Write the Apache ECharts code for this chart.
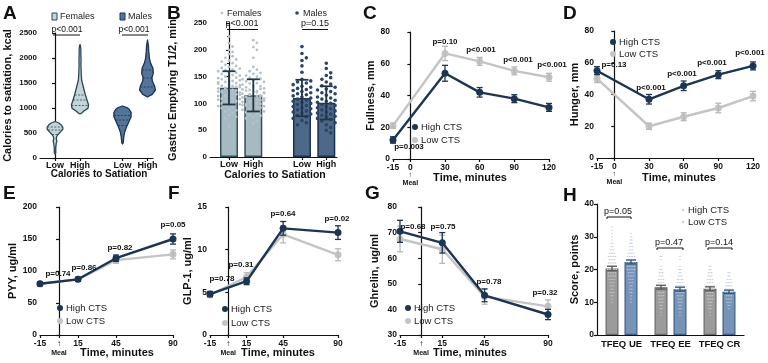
<!DOCTYPE html>
<html><head><meta charset="utf-8">
<script src="https://cdn.jsdelivr.net/npm/echarts@6/dist/echarts.min.js"></script>
<style>html,body{margin:0;padding:0;background:#fff}#c{width:768px;height:363px}</style>
</head><body><div id="c"></div>
<script>
const FONT = "'Liberation Sans', Arial, Helvetica, sans-serif";
const INK = '#111';
const NAVY = '#1c3553', LGRAY = '#c4c4c4';

// ---------- Panel A : calories to satiation (violins) ----------
const aLevels = ['Low', 'High'];
const aSexes = ['Females', 'Males'];
const aYTicks = [0, 500, 1000, 1500, 2000, 2500];
// [kcal, relative density]
const aFemLowDensity  = [[80,0],[100,0.08],[200,0.08],[300,0.15],[340,0.22],[380,0.15],[420,0.18],[460,0.3],[527,0.67],[580,0.92],[620,0.9],[660,0.74],[700,0.45],[730,0]];
const aFemHighDensity = [[880,0],[900,0.2],[940,0.45],[993,0.92],[1060,1],[1160,0.81],[1260,0.63],[1360,0.48],[1460,0.33],[1560,0.19],[1660,0.15],[1760,0.13],[1860,0.11],[1960,0.12],[2060,0.1],[2160,0.1],[2240,0.06],[2270,0]];
const aMaleLowDensity = [[280,0],[300,0.08],[427,0.15],[527,0.26],[627,0.48],[727,0.74],[827,1],[913,1],[980,0.75],[1010,0.5],[1040,0]];
const aMaleHighDensity= [[1220,0],[1273,0.55],[1360,0.92],[1447,0.81],[1540,0.56],[1607,0.52],[1693,0.67],[1793,0.63],[1893,0.37],[1993,0.22],[2127,0.15],[2260,0.1],[2360,0]];
const aFemLowQuart  = [470, 560, 620];
const aFemHighQuart = [1050, 1160, 1260];
const aMaleLowQuart = [650, 760, 850];
const aMaleHighQuart= [1420, 1600, 1760];
const aPValues = ['p<0.001', 'p<0.001'];

// ---------- Panel B : gastric emptying ----------
const bLevels = ['Low', 'High'];
const bSexes = ['Females', 'Males'];
const bYTicks = [0, 50, 100, 150, 200, 250];
const bMeans = [129, 115, 110, 101];   // F-Low, F-High, M-Low, M-High
const bSD    = [31, 30, 34, 31];
const bFemLowPts  = [225,212,206,200,196,192,188,185,182,180,178,175,172,170,168,166,165,163,162,160,158,157,155,153,152,150,148,147,146,145,143,142,140,139,138,137,135,134,133,132,131,130,129,128,127,126,125,124,123,122,121,120,119,118,117,116,115,114,113,112,110,109,108,107,105,104,103,102,100,98,96,95,93,91,89,87,85,82,78,75,72,57];
const bFemHighPts = [218,213,205,200,185,168,163,160,157,155,152,150,148,146,145,143,141,140,138,137,135,133,132,130,129,128,127,126,125,124,123,122,121,120,119,118,117,116,115,114,113,112,111,110,109,108,107,106,105,104,103,102,101,100,99,98,97,96,95,94,93,92,90,88,86,85,83,81,79,77,75,72,68,63];
const bMaleLowPts = [206,193,185,180,170,158,145,142,140,138,135,132,130,128,126,124,122,120,118,116,114,112,110,108,106,104,102,100,98,96,94,92,90,88,86,84,82,80,78,75,72,68,64,60];
const bMaleHighPts= [175,165,157,152,148,145,140,136,133,130,127,125,122,120,118,115,112,110,108,106,104,102,100,98,96,94,92,90,88,86,84,82,80,78,76,74,72,70,67,64,60,55,50,45];
const bPValues = ['p<0.001', 'p=0.15'];

// ---------- Panels C-G : time courses ----------
const timesCD  = [-15, 30, 60, 90, 120];
const timesEFG = [-15, 15, 45, 90];
const ticksCD  = [-15, 0, 30, 60, 90, 120];
const ticksEFG = [-15, 0, 15, 45, 90];

const cHigh = [12, 54, 42, 38, 32.5],   cHighErr = [2, 5, 3, 2.5, 2.5];
const cLow  = [21, 66.5, 61.5, 55.5, 51.5], cLowErr = [1.5, 4.5, 2.5, 2.5, 2.5];
const cP = ['p=0.003', 'p=0.10', 'p<0.001', 'p<0.001', 'p<0.001'];

const dHigh = [55, 37, 45.5, 52.5, 58], dHighErr = [2.5, 3, 3, 2.5, 2.5];
const dLow  = [50, 20, 26, 31.5, 39],   dLowErr  = [2.5, 2, 2.5, 3, 3];
const dP = ['p=0.13', 'p<0.001', 'p<0.001', 'p<0.001', 'p<0.001'];

const eHigh = [80, 87, 120, 150], eHighErr = [3, 3, 5, 8];
const eLow  = [80, 87, 117, 126], eLowErr  = [3, 3, 5, 7];
const eP = ['p=0.74', 'p=0.86', 'p=0.82', 'p=0.05'];

const fHigh = [4.8, 6.3, 12.5, 12.0], fHighErr = [0.3, 0.4, 0.8, 0.8];
const fLow  = [4.7, 6.8, 11.8, 9.4],  fLowErr  = [0.3, 0.5, 1.0, 0.7];
const fP = ['p=0.78', 'p=0.31', 'p=0.64', 'p=0.02'];

const gHigh = [70.5, 66, 45.5, 38],   gHighErr = [4.3, 4, 2.5, 2];
const gLow  = [67.5, 63.5, 45, 41.2], gLowErr  = [5, 5.5, 3, 2.5];
const gP = ['p=0.68', 'p=0.75', 'p=0.78', 'p=0.32'];

// ---------- Panel H : TFEQ scores ----------
const hCats = ['TFEQ UE', 'TFEQ EE', 'TFEQ CR'];
const hYTicks = [0, 10, 20, 30, 40];
const hHigh = [20.3, 14.6, 14.1], hHighErr = [0.7, 0.6, 0.6];
const hLow  = [22.3, 14.0, 13.2], hLowErr  = [0.6, 0.6, 0.5];
const hP = ['p=0.05', 'p=0.47', 'p=0.14'];
// [score, count]
const hHighPts = [
  [[33,1],[32,1],[31,1],[30,1],[29,1],[28,2],[27,2],[26,3],[25,4],[24,5],[23,4],[22,5],[21,6],[20,6],[19,5],[18,5],[17,4],[16,3],[15,3],[14,2],[13,3],[12,2],[11,1],[10,1]],
  [[24,2],[23,1],[21,1],[20,2],[19,3],[18,3],[17,4],[16,4],[15,5],[14,5],[13,4],[12,4],[11,3],[10,3],[9,2],[8,2],[7,1],[6,1]],
  [[21,2],[20,2],[19,3],[18,3],[17,4],[16,4],[15,5],[14,5],[13,4],[12,4],[11,4],[10,3],[9,2],[8,2],[7,1],[6,1]]
];
const hLowPts = [
  [[31,1],[30,1],[29,2],[28,2],[27,3],[26,3],[25,4],[24,5],[23,5],[22,6],[21,5],[20,5],[19,4],[18,4],[17,3],[16,3],[15,2],[14,2],[13,2],[12,1],[11,1],[10,1]],
  [[24,1],[23,1],[21,1],[20,2],[19,2],[18,3],[17,4],[16,4],[15,5],[14,5],[13,5],[12,4],[11,3],[10,3],[9,2],[8,2],[7,1],[6,1]],
  [[19,2],[18,2],[17,3],[16,4],[15,4],[14,5],[13,5],[12,4],[11,4],[10,3],[9,2],[8,1]]
];

// ================= build =================
const posA = (s, l) => s * 2.7 + l;
const posB = (s, l) => s * 3 + l;

const axisLine = {show: true, lineStyle: {color: INK, width: 1.2}};
const axisTick = {show: true, length: 3, lineStyle: {color: INK, width: 1.2}};
function yAx(gi, ticks, name, gap, fs, extra) {
  return Object.assign({
    gridIndex: gi, type: 'value', min: ticks[0], max: ticks[ticks.length - 1],
    interval: ticks[1] - ticks[0], name, nameLocation: 'middle', nameGap: gap,
    nameTextStyle: {fontFamily: FONT, fontWeight: 'bold', fontSize: 11, color: INK},
    axisLine, axisTick,
    axisLabel: {fontFamily: FONT, fontWeight: 'bold', fontSize: fs, color: INK, margin: 3, formatter: v => String(v)},
    splitLine: {show: false}
  }, extra || {});
}
const mealRich = {
  arr: {fontFamily: FONT, fontSize: 7, fontWeight: 'bold', color: INK, lineHeight: 7},
  meal: {fontFamily: FONT, fontSize: 7, fontWeight: 'bold', color: INK, lineHeight: 9}
};
function xTime(gi, ticks, max, zeroShown) {
  return {
    gridIndex: gi, type: 'value', min: -15, max,
    axisLine, axisTick: Object.assign({}, axisTick, {customValues: ticks}),
    axisLabel: {
      customValues: ticks, fontFamily: FONT, fontWeight: 'bold', fontSize: 8.5, color: INK, margin: 4,
      lineHeight: 9,
      formatter: v => v === 0 ? (zeroShown ? '0\n{arr|↑}\n{meal|Meal}' : '{arr|↑}\n{meal|Meal}') : String(v),
      rich: zeroShown ? mealRich : {arr: Object.assign({}, mealRich.arr, {fontSize: 8, lineHeight: 10}), meal: mealRich.meal}
    },
    splitLine: {show: false}
  };
}
function xCat(gi, min, max, posFn, levels) {
  const vals = [], labels = [];
  [0, 1].forEach(s => levels.forEach((l, li) => { vals.push(posFn(s, li)); labels.push(l); }));
  return {
    gridIndex: gi, type: 'value', min, max, axisLine,
    axisTick: Object.assign({}, axisTick, {customValues: vals}),
    axisLabel: {customValues: vals, fontFamily: FONT, fontWeight: 'bold', fontSize: 9, color: INK, margin: 3,
      formatter: v => { const i = vals.findIndex(p => Math.abs(p - v) < 1e-6); return i >= 0 ? labels[i] : ''; }},
    splitLine: {show: false}
  };
}

const grids = [
  {left: 40, top: 33, width: 113, height: 125},
  {left: 210, top: 23, width: 127, height: 134},
  {left: 393, top: 32, width: 156, height: 127},
  {left: 597, top: 31, width: 156, height: 127},
  {left: 40, top: 207, width: 133, height: 128},
  {left: 210, top: 207, width: 128, height: 128},
  {left: 400, top: 207, width: 148, height: 128},
  {left: 597, top: 204, width: 147, height: 131}
];

const xAxes = [
  xCat(0, -0.6, 3.92, posA, aLevels),
  xCat(1, -0.78, 4.44, posB, bLevels),
  xTime(2, ticksCD, 120, true),
  xTime(3, ticksCD, 120, true),
  xTime(4, ticksEFG, 90, false),
  xTime(5, ticksEFG, 90, false),
  xTime(6, ticksEFG, 90, false),
  {gridIndex: 7, type: 'category', data: hCats, axisLine, axisTick: {show: false},
   axisLabel: {fontFamily: FONT, fontWeight: 'bold', fontSize: 9.5, color: INK, margin: 4, interval: 0}}
];
const yAxes = [
  yAx(0, aYTicks, 'Calories to satiation, kcal', 27, 8),
  yAx(1, bYTicks, 'Gastric Emptying T1/2, min', 32, 8, {minorTick: {show: true, splitNumber: 2, length: 2, lineStyle: {color: INK, width: 1}}}),
  yAx(2, [0, 20, 40, 60, 80], 'Fullness, mm', 16, 8.5),
  yAx(3, [0, 20, 40, 60, 80], 'Hunger, mm', 17, 8.5),
  yAx(4, [0, 50, 100, 150, 200], 'PYY, ug/ml', 15, 8.5),
  yAx(5, [0, 5, 10, 15], 'GLP-1, ug/ml', 13, 8.5),
  yAx(6, [30, 40, 50, 60, 70, 80], 'Ghrelin, ug/ml', 20, 8.5),
  yAx(7, hYTicks, 'Score, points', 14, 8.5)
];

// ---------- helpers for custom series ----------
function errSeries(xi, yi, xs, mean, err, color, capHalf, lw, dx) {
  return {
    type: 'custom', xAxisIndex: xi, yAxisIndex: yi, clip: false, z: 4,
    data: xs.map((x, i) => [x, mean[i] - err[i], mean[i] + err[i]]),
    renderItem: (params, api) => {
      const x = api.value(0);
      const p1 = api.coord([x, api.value(2)]), p2 = api.coord([x, api.value(1)]);
      const cx = p1[0] + (dx || 0);
      const st = {stroke: color, lineWidth: lw};
      return {type: 'group', children: [
        {type: 'line', shape: {x1: cx, y1: p1[1], x2: cx, y2: p2[1]}, style: st},
        {type: 'line', shape: {x1: cx - capHalf, y1: p1[1], x2: cx + capHalf, y2: p1[1]}, style: st},
        {type: 'line', shape: {x1: cx - capHalf, y1: p2[1], x2: cx + capHalf, y2: p2[1]}, style: st}
      ]};
    }
  };
}
function interpDensity(dens, v) {
  for (let i = 0; i < dens.length - 1; i++) {
    if (v >= dens[i][0] && v <= dens[i + 1][0]) {
      const t = (v - dens[i][0]) / (dens[i + 1][0] - dens[i][0]);
      return dens[i][1] + t * (dens[i + 1][1] - dens[i][1]);
    }
  }
  return 0;
}
// deterministic beeswarm layout
function swarm(values, cx, coordY, rc, step, maxHalf) {
  const placed = [];
  values.slice().sort((a, b) => b - a).forEach(v => {
    const y = coordY(v);
    let best = null;
    for (let k = 0; k < 40; k++) {
      const off = k === 0 ? 0 : Math.ceil(k / 2) * step * (k % 2 ? 1 : -1);
      if (Math.abs(off) > maxHalf) break;
      const x = cx + off;
      if (!placed.some(p => (p[0] - x) ** 2 + (p[1] - y) ** 2 < (2 * rc) ** 2)) { best = [x, y]; break; }
    }
    if (!best) best = [cx + ((placed.length % 7) - 3) * step, y];
    placed.push(best);
  });
  return placed;
}

const series = [];

// ---- A violins ----
const violins = [
  {s: 0, l: 0, dens: aFemLowDensity, q: aFemLowQuart},
  {s: 0, l: 1, dens: aFemHighDensity, q: aFemHighQuart},
  {s: 1, l: 0, dens: aMaleLowDensity, q: aMaleLowQuart},
  {s: 1, l: 1, dens: aMaleHighDensity, q: aMaleHighQuart}
];
const aFill = ['#c3d5d7', '#54749a'], aStroke = ['#2c4856', '#1a3350'];
series.push({
  type: 'custom', xAxisIndex: 0, yAxisIndex: 0, clip: false,
  data: violins.map(v => [posA(v.s, v.l), 0]),
  renderItem: (params, api) => {
    const v = violins[params.dataIndex];
    const pos = api.value(0);
    const cx = api.coord([pos, 0])[0];
    const W = 8.6;
    const right = v.dens.map(d => [cx + d[1] * W, api.coord([pos, d[0]])[1]]);
    const left = v.dens.slice().reverse().map(d => [cx - d[1] * W, api.coord([pos, d[0]])[1]]);
    const kids = [{type: 'polygon', shape: {points: right.concat(left)},
      style: {fill: aFill[v.s], stroke: aStroke[v.s], lineWidth: 1.3, lineJoin: 'round'}}];
    v.q.forEach(q => {
      const w = interpDensity(v.dens, q) * W;
      const y = api.coord([pos, q])[1];
      kids.push({type: 'line', shape: {x1: cx - w, y1: y, x2: cx + w, y2: y},
        style: {stroke: aStroke[v.s], lineWidth: 0.8, lineDash: [2, 1.5]}});
    });
    return {type: 'group', children: kids};
  }
});

// ---- B bars, dots, error bars ----
const bFill = ['#a6bac2', '#4d6889'], bStroke = ['#34505c', '#1c324d'];
const bDotCol = ['#b6c2c7', '#2b4566'];
const bIdx = [[0, 0], [0, 1], [1, 0], [1, 1]];
series.push({
  type: 'bar', xAxisIndex: 1, yAxisIndex: 1, barWidth: 18,
  data: bMeans.map((m, i) => ({value: [posB(bIdx[i][0], bIdx[i][1]), m],
    itemStyle: {color: bFill[bIdx[i][0]], borderColor: bStroke[bIdx[i][0]], borderWidth: 1.5}}))
});
const bPts = [bFemLowPts, bFemHighPts, bMaleLowPts, bMaleHighPts];
series.push({
  type: 'custom', xAxisIndex: 1, yAxisIndex: 1, clip: false, z: 3,
  data: bIdx.map(g => [posB(g[0], g[1]), 0]),
  renderItem: (params, api) => {
    const g = bIdx[params.dataIndex];
    const pos = api.value(0);
    const cx = api.coord([pos, 0])[0];
    const r = g[0] === 0 ? 1.4 : 1.8;
    const pts = swarm(bPts[params.dataIndex], cx, v => api.coord([pos, v])[1], r + 0.6, 2 * r + 0.8, 11);
    return {type: 'group', children: pts.map(p => ({type: 'circle', shape: {cx: p[0], cy: p[1], r},
      style: {fill: bDotCol[g[0]]}}))};
  }
});
series.push(errSeries(1, 1, bIdx.map(g => posB(g[0], g[1])), bMeans, bSD, '#1f3647', 6.5, 1.8, 0));

// ---- C-G lines ----
const linePanels = [
  {gi: 2, t: timesCD, hi: cHigh, he: cHighErr, lo: cLow, le: cLowErr},
  {gi: 3, t: timesCD, hi: dHigh, he: dHighErr, lo: dLow, le: dLowErr},
  {gi: 4, t: timesEFG, hi: eHigh, he: eHighErr, lo: eLow, le: eLowErr},
  {gi: 5, t: timesEFG, hi: fHigh, he: fHighErr, lo: fLow, le: fLowErr},
  {gi: 6, t: timesEFG, hi: gHigh, he: gHighErr, lo: gLow, le: gLowErr}
];
linePanels.forEach(p => {
  series.push(errSeries(p.gi, p.gi, p.t, p.lo, p.le, '#b8b8b8', 3, 1.3, 0));
  series.push({type: 'line', name: 'Low CTS', xAxisIndex: p.gi, yAxisIndex: p.gi,
    data: p.t.map((t, i) => [t, p.lo[i]]), symbol: 'circle', symbolSize: 7,
    lineStyle: {color: LGRAY, width: 2.4}, itemStyle: {color: LGRAY}, z: 3});
  series.push(errSeries(p.gi, p.gi, p.t, p.hi, p.he, NAVY, 3, 1.3, 0));
  series.push({type: 'line', name: 'High CTS', xAxisIndex: p.gi, yAxisIndex: p.gi,
    data: p.t.map((t, i) => [t, p.hi[i]]), symbol: 'circle', symbolSize: 7,
    lineStyle: {color: NAVY, width: 2.4}, itemStyle: {color: NAVY}, z: 5});
});

// ---- H bars ----
const hDX = 9.5;
series.push({type: 'bar', xAxisIndex: 7, yAxisIndex: 7, barWidth: 13, barGap: '46%', data: hHigh,
  itemStyle: {color: '#9b9b9b', borderColor: '#6a6a6a', borderWidth: 1.2}});
series.push({type: 'bar', xAxisIndex: 7, yAxisIndex: 7, barWidth: 13, data: hLow,
  itemStyle: {color: '#7793b6', borderColor: '#3e5e86', borderWidth: 1.2}});
[[hHighPts, -hDX, '#c8c8c8'], [hLowPts, hDX, '#b9c8da']].forEach(([sets, dx, col]) => {
  series.push({
    type: 'custom', xAxisIndex: 7, yAxisIndex: 7, clip: false, z: 3,
    data: hCats.map((c, i) => [i, 0]),
    renderItem: (params, api) => {
      const i = params.dataIndex;
      const cx = api.coord([i, 0])[0] + dx;
      const kids = [];
      sets[i].forEach(([v, n]) => {
        const y = api.coord([i, v])[1];
        for (let j = 0; j < n; j++) kids.push({type: 'circle',
          shape: {cx: cx + (j - (n - 1) / 2) * 1.8, cy: y, r: 0.7}, style: {fill: col}});
      });
      return {type: 'group', children: kids};
    }
  });
});
series.push(errSeries(7, 7, [0, 1, 2], hHigh, hHighErr, '#555555', 5, 1.3, -hDX));
series.push(errSeries(7, 7, [0, 1, 2], hLow, hLowErr, '#2f527c', 5, 1.3, hDX));

// ---------- annotations ----------
const G = [];
function T(x, y, text, o) {
  o = o || {};
  G.push({type: 'text', x, y, z: 100, style: {text, fontFamily: FONT, fontSize: o.size || 8,
    fontWeight: o.w || 'bold', fill: o.c || INK, align: o.a || 'center', verticalAlign: 'middle'}});
}
function L(points, o) {
  G.push({type: 'polyline', z: 100, shape: {points}, style: {stroke: INK, lineWidth: (o && o.lw) || 1, fill: null}});
}
function dot(cx, cy, r, fill) { G.push({type: 'circle', z: 100, shape: {cx, cy, r}, style: {fill}}); }

// panel letters
[['A', 3, 14], ['B', 167, 14], ['C', 363, 14], ['D', 563, 14], ['E', 3, 194], ['F', 168, 194], ['G', 365, 194], ['H', 563, 196]]
  .forEach(([s, x, y]) => T(x, y, s, {size: 19, a: 'left'}));

// A legend + p
G.push({type: 'rect', z: 100, shape: {x: 52, y: 13, width: 5, height: 7}, style: {fill: aFill[0], stroke: aStroke[0], lineWidth: 1}});
T(60, 16.5, aSexes[0], {size: 9, w: 'normal', a: 'left', c: '#222'});
G.push({type: 'rect', z: 100, shape: {x: 120, y: 13, width: 5, height: 7}, style: {fill: aFill[1], stroke: aStroke[1], lineWidth: 1}});
T(128, 16.5, aSexes[1], {size: 9, w: 'normal', a: 'left', c: '#222'});
T(67, 30, aPValues[0], {size: 8.5, w: 'normal'}); L([[53, 35], [80, 35]]);
T(134, 30, aPValues[1], {size: 8.5, w: 'normal'}); L([[122, 35], [148, 35]]);
T(99, 174, 'Calories to Satiation', {size: 10});

// B legend + p
dot(222, 13, 1.3, bDotCol[0]); T(227, 13.5, bSexes[0], {size: 9, w: 'normal', a: 'left', c: '#222'});
dot(297, 13, 1.8, bDotCol[1]); T(303, 13.5, bSexes[1], {size: 9, w: 'normal', a: 'left', c: '#222'});
T(242, 24, bPValues[0], {size: 9, w: 'normal'}); L([[227, 29.5], [258, 29.5]]);
T(315, 24, bPValues[1], {size: 9, w: 'normal'}); L([[302, 29.5], [328, 29.5]]);
T(275, 175, 'Calories to Satiation', {size: 10.5});

// line panel legends
function lineLegend(x, y1, y2) {
  dot(x, y1, 3, NAVY); T(x + 6, y1, 'High CTS', {size: 9.5, w: 'normal', a: 'left', c: '#222'});
  dot(x, y2, 3, LGRAY); T(x + 6, y2, 'Low CTS', {size: 9.5, w: 'normal', a: 'left', c: '#222'});
}
lineLegend(415, 127, 140);
lineLegend(613, 42, 54);
lineLegend(60, 308, 321);
lineLegend(225, 309, 323);
lineLegend(408, 308, 321);

// p values
[[409, 147], [445, 42], [481, 50], [518, 60], [552, 65]].forEach((p, i) => T(p[0], p[1], cP[i]));
[[614, 65], [651, 88], [682, 74], [712, 63], [750, 53]].forEach((p, i) => T(p[0], p[1], dP[i]));
[[58, 274], [84, 268], [120, 248], [173, 225]].forEach((p, i) => T(p[0], p[1], eP[i]));
[[222, 279], [241, 265], [283, 214], [337, 219]].forEach((p, i) => T(p[0], p[1], fP[i]));
[[413, 227], [443, 227], [489, 282], [545, 293]].forEach((p, i) => T(p[0], p[1], gP[i]));

// x titles
T(470, 178, 'Time, minutes', {size: 11});
T(679, 178, 'Time, minutes', {size: 11});
T(117, 353, 'Time, minutes', {size: 11});
T(278, 353, 'Time, minutes', {size: 11});
T(470, 353, 'Time, minutes', {size: 11});

// H legend + p
dot(683, 210, 0.9, '#bbbbbb'); T(688, 210, 'High CTS', {size: 9.5, w: 'normal', a: 'left', c: '#222'});
dot(683, 222, 0.9, '#a8b8cc'); T(688, 222, 'Low CTS', {size: 9.5, w: 'normal', a: 'left', c: '#222'});
[[618, 212, 607, 631], [669, 243, 657, 683], [719, 243, 708, 732]].forEach((p, i) => {
  T(p[0], p[1], hP[i], {size: 9, w: 'normal'});
  L([[p[2], 219], [p[2], 217], [p[3], 217], [p[3], 219]].map(q => [q[0], q[1] + (p[1] - 212)]));
});

const chart = echarts.init(document.getElementById('c'), null, {renderer: 'canvas'});
chart.setOption({
  animation: false, backgroundColor: '#fff', textStyle: {fontFamily: FONT},
  grid: grids, xAxis: xAxes, yAxis: yAxes, series, graphic: {elements: G}
});
</script></body></html>
